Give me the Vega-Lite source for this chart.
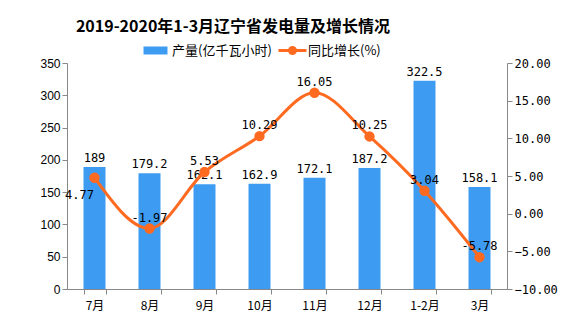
{
  "$schema": "https://vega.github.io/schema/vega-lite/v6.json",
  "autosize": "none",
  "width": 440,
  "height": 226,
  "padding": {"left": 67, "top": 63, "right": 69, "bottom": 38},
  "background": "white",
  "title": {
    "text": "2019-2020年1-3月辽宁省发电量及增长情况",
    "font": "Noto Sans CJK SC",
    "fontSize": 16,
    "fontWeight": "bold",
    "color": "#000000",
    "anchor": "middle",
    "dx": -54,
    "offset": 9
  },
  "data": {
    "values": [
      {"month": "7月", "output": 189, "growth": 4.77},
      {"month": "8月", "output": 179.2, "growth": -1.97},
      {"month": "9月", "output": 162.1, "growth": 5.53},
      {"month": "10月", "output": 162.9, "growth": 10.29},
      {"month": "11月", "output": 172.1, "growth": 16.05},
      {"month": "12月", "output": 187.2, "growth": 10.25},
      {"month": "1-2月", "output": 322.5, "growth": 3.04},
      {"month": "3月", "output": 158.1, "growth": -5.78}
    ]
  },
  "encoding": {
    "x": {
      "field": "month",
      "type": "nominal",
      "sort": null,
      "scale": {"paddingInner": 0.6, "paddingOuter": 0.3},
      "axis": {
        "title": null,
        "labelAngle": 0,
        "tickBand": "extent",
        "domainColor": "#888888",
        "tickColor": "#888888",
        "tickSize": 5,
        "labelPadding": 6,
        "labelFontSize": 12,
        "labelColor": "#000000",
        "labelFont": "Noto Sans CJK SC"
      }
    }
  },
  "layer": [
    {
      "encoding": {
        "y": {
          "field": "output",
          "type": "quantitative",
          "scale": {"domain": [0, 350], "nice": false},
          "axis": {
            "title": null,
            "values": [0, 50, 100, 150, 200, 250, 300, 350],
            "labelOverlap": false,
            "grid": false,
            "domainColor": "#888888",
            "tickColor": "#888888",
            "tickSize": 5,
            "labelFontSize": 12,
            "labelColor": "#000000",
            "labelFont": "Liberation Sans"
          }
        }
      },
      "layer": [
        {
          "mark": {"type": "bar", "color": "#3D9CF2"},
          "encoding": {
            "fill": {
              "datum": "产量(亿千瓦小时)",
              "type": "nominal",
              "scale": {"range": ["#3D9CF2"]},
              "legend": {
                "title": null,
                "orient": "none",
                "legendX": 82,
                "legendY": -19,
                "symbolType": "M-2.4,-0.8H2.4V0.8H-2.4Z",
                "symbolSize": 100,
                "symbolStrokeWidth": 0,
                "labelOffset": 10,
                "labelFontSize": 13,
                "labelFont": "Noto Sans CJK SC",
                "labelColor": "#000000"
              }
            }
          }
        },
        {
          "mark": {"type": "text", "dy": -9, "fontSize": 12, "font": "DejaVu Sans Mono", "color": "#000000"},
          "encoding": {
            "text": {"field": "output", "type": "nominal"}
          }
        }
      ]
    },
    {
      "encoding": {
        "y": {
          "field": "growth",
          "type": "quantitative",
          "scale": {"domain": [-10, 20], "nice": false},
          "axis": {
            "orient": "right",
            "title": null,
            "values": [-10, -5, 0, 5, 10, 15, 20],
            "labelOverlap": false,
            "format": ".2f",
            "grid": false,
            "domainColor": "#888888",
            "tickColor": "#888888",
            "tickSize": 5,
            "labelFontSize": 12,
            "labelColor": "#000000",
            "labelFont": "DejaVu Sans Mono"
          }
        }
      },
      "layer": [
        {
          "mark": {"type": "line", "interpolate": "monotone", "strokeWidth": 3, "point": {"filled": true, "size": 70, "color": "#FF6A21"}},
          "encoding": {
            "stroke": {
              "datum": "同比增长(%)",
              "type": "nominal",
              "scale": {"range": ["#FF6A21"]},
              "legend": {
                "title": null,
                "orient": "none",
                "legendX": 219,
                "legendY": -19,
                "symbolType": "M-2.8,0H2.8M-0.6,0A0.6,0.6,0,1,1,0.6,0A0.6,0.6,0,1,1,-0.6,0",
                "symbolSize": 100,
                "symbolStrokeWidth": 3,
                "symbolFillColor": "#FF6A21",
                "labelOffset": 9,
                "labelFontSize": 13,
                "labelFont": "Noto Sans CJK SC",
                "labelColor": "#000000"
              }
            }
          }
        },
        {
          "transform": [{"filter": "datum.month !== '7月'"}],
          "mark": {"type": "text", "dy": -11, "fontSize": 12, "font": "DejaVu Sans Mono", "color": "#000000"},
          "encoding": {
            "text": {"field": "growth", "type": "nominal"}
          }
        },
        {
          "transform": [{"filter": "datum.month === '7月'"}],
          "mark": {"type": "text", "dy": 17, "dx": -15, "fontSize": 12, "font": "DejaVu Sans Mono", "color": "#000000"},
          "encoding": {
            "text": {"field": "growth", "type": "nominal"}
          }
        }
      ]
    }
  ],
  "resolve": {"scale": {"y": "independent"}},
  "config": {
    "view": {"stroke": null},
    "legend": {"symbolOpacity": 1}
  }
}
